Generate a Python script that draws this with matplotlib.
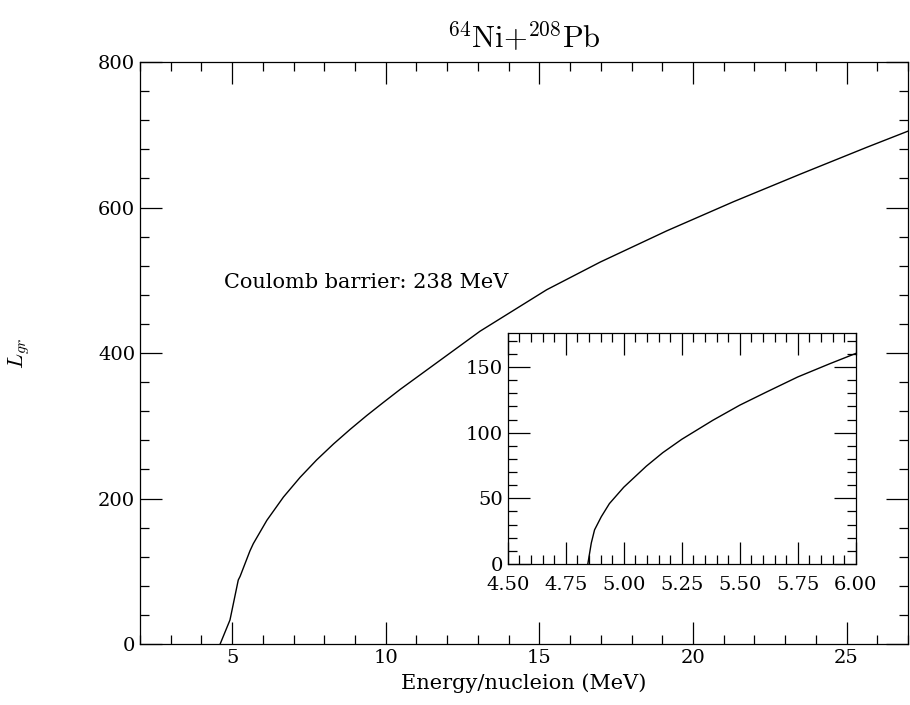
import matplotlib.pyplot as plt
from matplotlib.ticker import MultipleLocator, FormatStrFormatter

plt.rcParams['font.family'] = 'DejaVu Serif'
plt.rcParams['mathtext.fontset'] = 'cm'

# main curve: L_gr vs energy per nucleon
energy = [4.61, 4.93, 5.2, 5.26, 5.58, 5.69, 6.13, 6.67, 7.21, 7.75, 8.30,
          8.84, 9.38, 9.92, 10.47, 13.07, 15.24, 16.98, 19.15, 21.32, 23.5,
          25.67, 27.0]
lgr = [0, 33, 88, 93, 128, 138, 170, 202, 229, 253, 275,
       295, 314, 332, 350, 430, 487, 525, 568, 608, 646,
       683, 705]

# inset: zoom near threshold
energy_in = [4.845, 4.86, 4.874, 4.903, 4.938, 5.0, 5.097, 5.168, 5.25,
             5.384, 5.5, 5.615, 5.75, 5.887, 6.0]
lgr_in = [0, 16, 26, 36, 46, 58.5, 74.5, 84.8, 95,
          109.5, 121, 131, 142.5, 152.5, 160.4]


def style(a):
    a.tick_params(which='both', direction='in', top=True, right=True,
                  labelsize=14, width=0.9)
    a.tick_params(which='major', length=16)
    a.tick_params(which='minor', length=6.5)
    for s in a.spines.values():
        s.set_linewidth(0.9)


fig = plt.figure(figsize=(9.1, 7.05), dpi=100)
ax = fig.add_axes([0.1538, 0.0865, 0.844, 0.8255])
ax.plot(energy, lgr, color='black', lw=1.0)
ax.set_xlim(2, 27)
ax.set_ylim(0, 800)
ax.xaxis.set_major_locator(MultipleLocator(5))
ax.xaxis.set_minor_locator(MultipleLocator(1))
ax.yaxis.set_major_locator(MultipleLocator(200))
ax.yaxis.set_minor_locator(MultipleLocator(40))
style(ax)
ax.set_xlabel('Energy/nucleion (MeV)', fontsize=15, labelpad=5)
ax.set_ylabel('$L_{gr}$', fontsize=16)
ax.yaxis.set_label_coords(-0.14, 0.5)
ax.set_title('$^{64}\\mathrm{Ni}{+}^{208}\\mathrm{Pb}$', fontsize=22, pad=10)
ax.text(4.75, 497, 'Coulomb barrier: 238 MeV', fontsize=15,
        ha='left', va='center')

ins = fig.add_axes([0.558, 0.2, 0.3824, 0.3277])
ins.plot(energy_in, lgr_in, color='black', lw=1.0)
ins.set_xlim(4.5, 6.0)
ins.set_ylim(0, 176)
ins.xaxis.set_major_locator(MultipleLocator(0.25))
ins.xaxis.set_minor_locator(MultipleLocator(0.05))
ins.yaxis.set_major_locator(MultipleLocator(50))
ins.yaxis.set_minor_locator(MultipleLocator(10))
ins.xaxis.set_major_formatter(FormatStrFormatter('%.2f'))
style(ins)
ins.tick_params(axis='x', which='major', pad=9)

fig.savefig('out.png', dpi=100)
